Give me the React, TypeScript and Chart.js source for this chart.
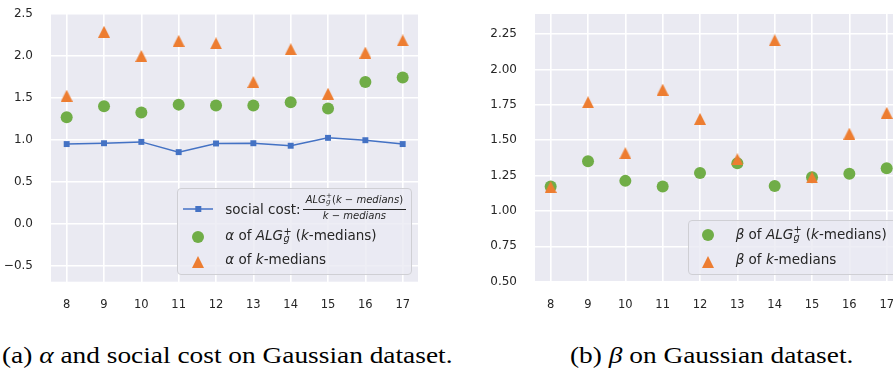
import React, { useEffect, useRef } from "react";
import { Chart, registerables } from "chart.js";

Chart.register(...registerables);

// ---------------- data ----------------
const kValues = [8, 9, 10, 11, 12, 13, 14, 15, 16, 17];
const socialCost = [0.95, 0.96, 0.976, 0.854, 0.957, 0.96, 0.93, 1.024, 0.996, 0.95];
const alphaAlg = [1.27, 1.4, 1.325, 1.42, 1.41, 1.41, 1.447, 1.375, 1.69, 1.743];
const alphaKMedians = [1.526, 2.288, 2.0, 2.18, 2.15, 1.69, 2.08, 1.55, 2.04, 2.185];
const betaAlg = [1.173, 1.352, 1.213, 1.173, 1.268, 1.338, 1.176, 1.239, 1.263, 1.303];
const betaKMedians = [1.17, 1.769, 1.409, 1.858, 1.651, 1.366, 2.207, 1.237, 1.547, 1.694];

const leftYTicks = [-0.5, 0, 0.5, 1, 1.5, 2, 2.5];
const leftYTickLabels = ["\u22120.5", "0.0", "0.5", "1.0", "1.5", "2.0", "2.5"];
const rightYTicks = [0.5, 0.75, 1, 1.25, 1.5, 1.75, 2, 2.25];
const rightYTickLabels = ["0.50", "0.75", "1.00", "1.25", "1.50", "1.75", "2.00", "2.25"];
const xTickLabels = ["8", "9", "10", "11", "12", "13", "14", "15", "16", "17"];

// ---------------- style ----------------
const BLUE = "#4472C4";
const GREEN = "#70AD47";
const ORANGE = "#ED7D31";
const PLOT_BG = "#EAEAF2";
const TICK_COLOR = "#262626";
const SANS = '"DejaVu Sans", sans-serif';
const SERIF = '"Liberation Serif", serif';

function makeTriangle(size: number, color: string) {
  const c = document.createElement("canvas");
  c.width = size;
  c.height = size;
  const ctx = c.getContext("2d")!;
  ctx.fillStyle = color;
  ctx.beginPath();
  ctx.moveTo(size / 2, 0);
  ctx.lineTo(size, size);
  ctx.lineTo(0, size);
  ctx.closePath();
  ctx.fill();
  return c;
}

const bgPlugin = {
  id: "plotBg",
  beforeDraw(chart: any) {
    const { ctx, chartArea: a } = chart;
    ctx.save();
    ctx.fillStyle = PLOT_BG;
    ctx.fillRect(a.left, a.top, a.right - a.left, a.bottom - a.top);
    ctx.restore();
  },
};

type PlotProps = {
  left: number;
  width: number;
  height: number;
  yAxisWidth: number;
  rightPad: number;
  xAxisHeight: number;
  yMin: number;
  yMax: number;
  yTicks: number[];
  yLabels: string[];
  datasets: any[];
};

function PlotCanvas(p: PlotProps) {
  const ref = useRef<HTMLCanvasElement>(null);
  useEffect(() => {
    const chart = new Chart(ref.current!, {
      type: "scatter",
      data: { datasets: p.datasets },
      plugins: [bgPlugin],
      options: {
        animation: false,
        responsive: false,
        events: [],
        layout: { padding: { top: 14, left: 0, right: p.rightPad, bottom: 0 } },
        plugins: { legend: { display: false }, tooltip: { enabled: false } },
        scales: {
          x: {
            type: "linear",
            min: 7.58,
            max: 17.41,
            afterBuildTicks: (s: any) => {
              s.ticks = kValues.map((v) => ({ value: v }));
            },
            afterFit: (s: any) => {
              s.height = p.xAxisHeight;
              s.paddingLeft = 0;
              s.paddingRight = 0;
            },
            grid: { color: "#ffffff", lineWidth: 1.6, drawTicks: false },
            border: { display: false },
            ticks: {
              color: TICK_COLOR,
              font: { family: SANS, size: 11.5 },
              padding: 16.5,
              maxRotation: 0,
              autoSkip: false,
              callback: (_v: any, i: number) => xTickLabels[i],
            },
          },
          y: {
            type: "linear",
            min: p.yMin,
            max: p.yMax,
            afterBuildTicks: (s: any) => {
              s.ticks = p.yTicks.map((v) => ({ value: v }));
            },
            afterFit: (s: any) => {
              s.width = p.yAxisWidth;
              s.paddingTop = 0;
              s.paddingBottom = 0;
            },
            grid: { color: "#ffffff", lineWidth: 1.6, drawTicks: false },
            border: { display: false },
            ticks: {
              color: TICK_COLOR,
              font: { family: SANS, size: 12 },
              padding: 18,
              autoSkip: false,
              callback: (_v: any, i: number) => p.yLabels[i],
            },
          },
        },
      } as any,
    });
    return () => chart.destroy();
  }, []);
  return (
    <canvas
      ref={ref}
      width={p.width}
      height={p.height}
      style={{ position: "absolute", left: p.left, top: 0, width: p.width, height: p.height }}
    />
  );
}

const pts = (vals: number[]) => vals.map((v, i) => ({ x: kValues[i], y: v }));

function circleDs(label: string, vals: number[]) {
  return {
    label,
    data: pts(vals),
    pointStyle: "circle",
    pointRadius: 6,
    pointBackgroundColor: GREEN,
    pointBorderWidth: 0,
    showLine: false,
    clip: false,
    order: 2,
  };
}

function triangleDs(label: string, vals: number[]) {
  return {
    label,
    data: pts(vals),
    pointStyle: makeTriangle(12, ORANGE),
    pointRadius: 6,
    pointBorderWidth: 0,
    showLine: false,
    clip: false,
    order: 1,
  };
}

// ---------------- legend pieces ----------------
function Scripts() {
  return (
    <span style={{ position: "relative", display: "inline-block", width: "0.62em", height: "0.7em" }}>
      <span style={{ position: "absolute", left: "0.04em", top: "-0.42em", fontSize: "0.72em", lineHeight: 1 }}>+</span>
      <span style={{ position: "absolute", left: "0.04em", top: "0.36em", fontSize: "0.72em", lineHeight: 1, fontStyle: "italic" }}>g</span>
    </span>
  );
}

const textStyle = (left: number, top: number, size = 13.5): React.CSSProperties => ({
  position: "absolute",
  left,
  top,
  fontFamily: SANS,
  fontSize: size,
  lineHeight: 1,
  color: TICK_COLOR,
  whiteSpace: "nowrap",
});

function Circle({ cx, cy }: { cx: number; cy: number }) {
  return (
    <div style={{ position: "absolute", left: cx - 6, top: cy - 6, width: 12, height: 12, borderRadius: 6, background: GREEN }} />
  );
}

function Tri({ cx, cy }: { cx: number; cy: number }) {
  return (
    <svg style={{ position: "absolute", left: cx - 6, top: cy - 6 }} width={12} height={12}>
      <polygon points="6,0 12,12 0,12" fill={ORANGE} />
    </svg>
  );
}

function LineHandle({ x1, x2, cy }: { x1: number; x2: number; cy: number }) {
  const w = x2 - x1;
  return (
    <svg style={{ position: "absolute", left: x1, top: cy - 5 }} width={w} height={10}>
      <line x1={0} y1={5} x2={w} y2={5} stroke={BLUE} strokeWidth={1.5} />
      <rect x={w / 2 - 3} y={2} width={6} height={6} fill={BLUE} />
    </svg>
  );
}

const boxStyle = (left: number, top: number, width: number, height: number): React.CSSProperties => ({
  position: "absolute",
  left,
  top,
  width,
  height,
  boxSizing: "border-box",
  border: "1px solid #cfcfd4",
  borderRadius: 4,
  background: "rgba(234,234,242,0.8)",
});

const captionStyle = (left: number): React.CSSProperties => ({
  position: "absolute",
  left,
  top: 343,
  fontFamily: SERIF,
  fontSize: 24,
  lineHeight: 1,
  color: "#000",
  whiteSpace: "nowrap",
  transformOrigin: "left top",
  transform: "scaleX(1.14)",
});

export default function App() {
  const leftDatasets = [
    {
      label: "social cost",
      data: pts(socialCost),
      showLine: true,
      borderColor: BLUE,
      borderWidth: 1.5,
      pointStyle: "rect",
      pointRadius: 4.2,
      pointBackgroundColor: BLUE,
      pointBorderWidth: 0,
      clip: false,
      order: 3,
    },
    circleDs("alpha ALG", alphaAlg),
    triangleDs("alpha k-medians", alphaKMedians),
  ];
  const rightDatasets = [circleDs("beta ALG", betaAlg), triangleDs("beta k-medians", betaKMedians)];

  return (
    <div
      style={{
        position: "absolute",
        left: 0,
        top: 0,
        width: 893,
        height: 369,
        overflow: "hidden",
        background: "#ffffff",
      }}
    >
      <PlotCanvas
        left={0}
        width={440}
        height={310}
        yAxisWidth={51}
        rightPad={22}
        xAxisHeight={28.3}
        yMin={-0.69}
        yMax={2.5}
        yTicks={leftYTicks}
        yLabels={leftYTickLabels}
        datasets={leftDatasets}
      />
      <PlotCanvas
        left={480}
        width={440}
        height={310}
        yAxisWidth={55}
        rightPad={18}
        xAxisHeight={28.3}
        yMin={0.5}
        yMax={2.393}
        yTicks={rightYTicks}
        yLabels={rightYTickLabels}
        datasets={rightDatasets}
      />

      {/* left legend */}
      <div style={boxStyle(176.7, 187.7, 235.3, 87.3)} />
      <LineHandle x1={182.7} x2={213.3} cy={209} />
      <div style={textStyle(225.3, 202.6)}>social cost:</div>
      <div style={{ ...textStyle(302.7, 194.5, 10), width: 103.3, textAlign: "center" }}>
        <i>ALG</i>
        <Scripts />
        (<i>k</i> − <i>medians</i>)
      </div>
      <div style={{ position: "absolute", left: 302.7, top: 208.8, width: 103.3, height: 1, background: TICK_COLOR }} />
      <div style={{ ...textStyle(302.7, 210.8, 10), width: 103.3, textAlign: "center" }}>
        <i>k</i> − <i>medians</i>
      </div>
      <Circle cx={198} cy={237} />
      <div style={textStyle(225.3, 229.1)}>
        <i>α</i> of <i>ALG</i>
        <Scripts /> (<i>k</i>-medians)
      </div>
      <Tri cx={198} cy={262} />
      <div style={textStyle(225.3, 253.3)}>
        <i>α</i> of <i>k</i>-medians
      </div>

      {/* right legend */}
      <div style={boxStyle(687.7, 220.3, 215, 54.7)} />
      <Circle cx={708.3} cy={235} />
      <div style={textStyle(735.7, 227.6)}>
        <i>β</i> of <i>ALG</i>
        <Scripts /> (<i>k</i>-medians)
      </div>
      <Tri cx={708.3} cy={261.7} />
      <div style={textStyle(735.7, 252.6)}>
        <i>β</i> of <i>k</i>-medians
      </div>

      {/* captions */}
      <div style={captionStyle(2)}>
        (a) <i>α</i> and social cost on Gaussian dataset.
      </div>
      <div style={captionStyle(570)}>
        (b) <i>β</i> on Gaussian dataset.
      </div>
    </div>
  );
}
